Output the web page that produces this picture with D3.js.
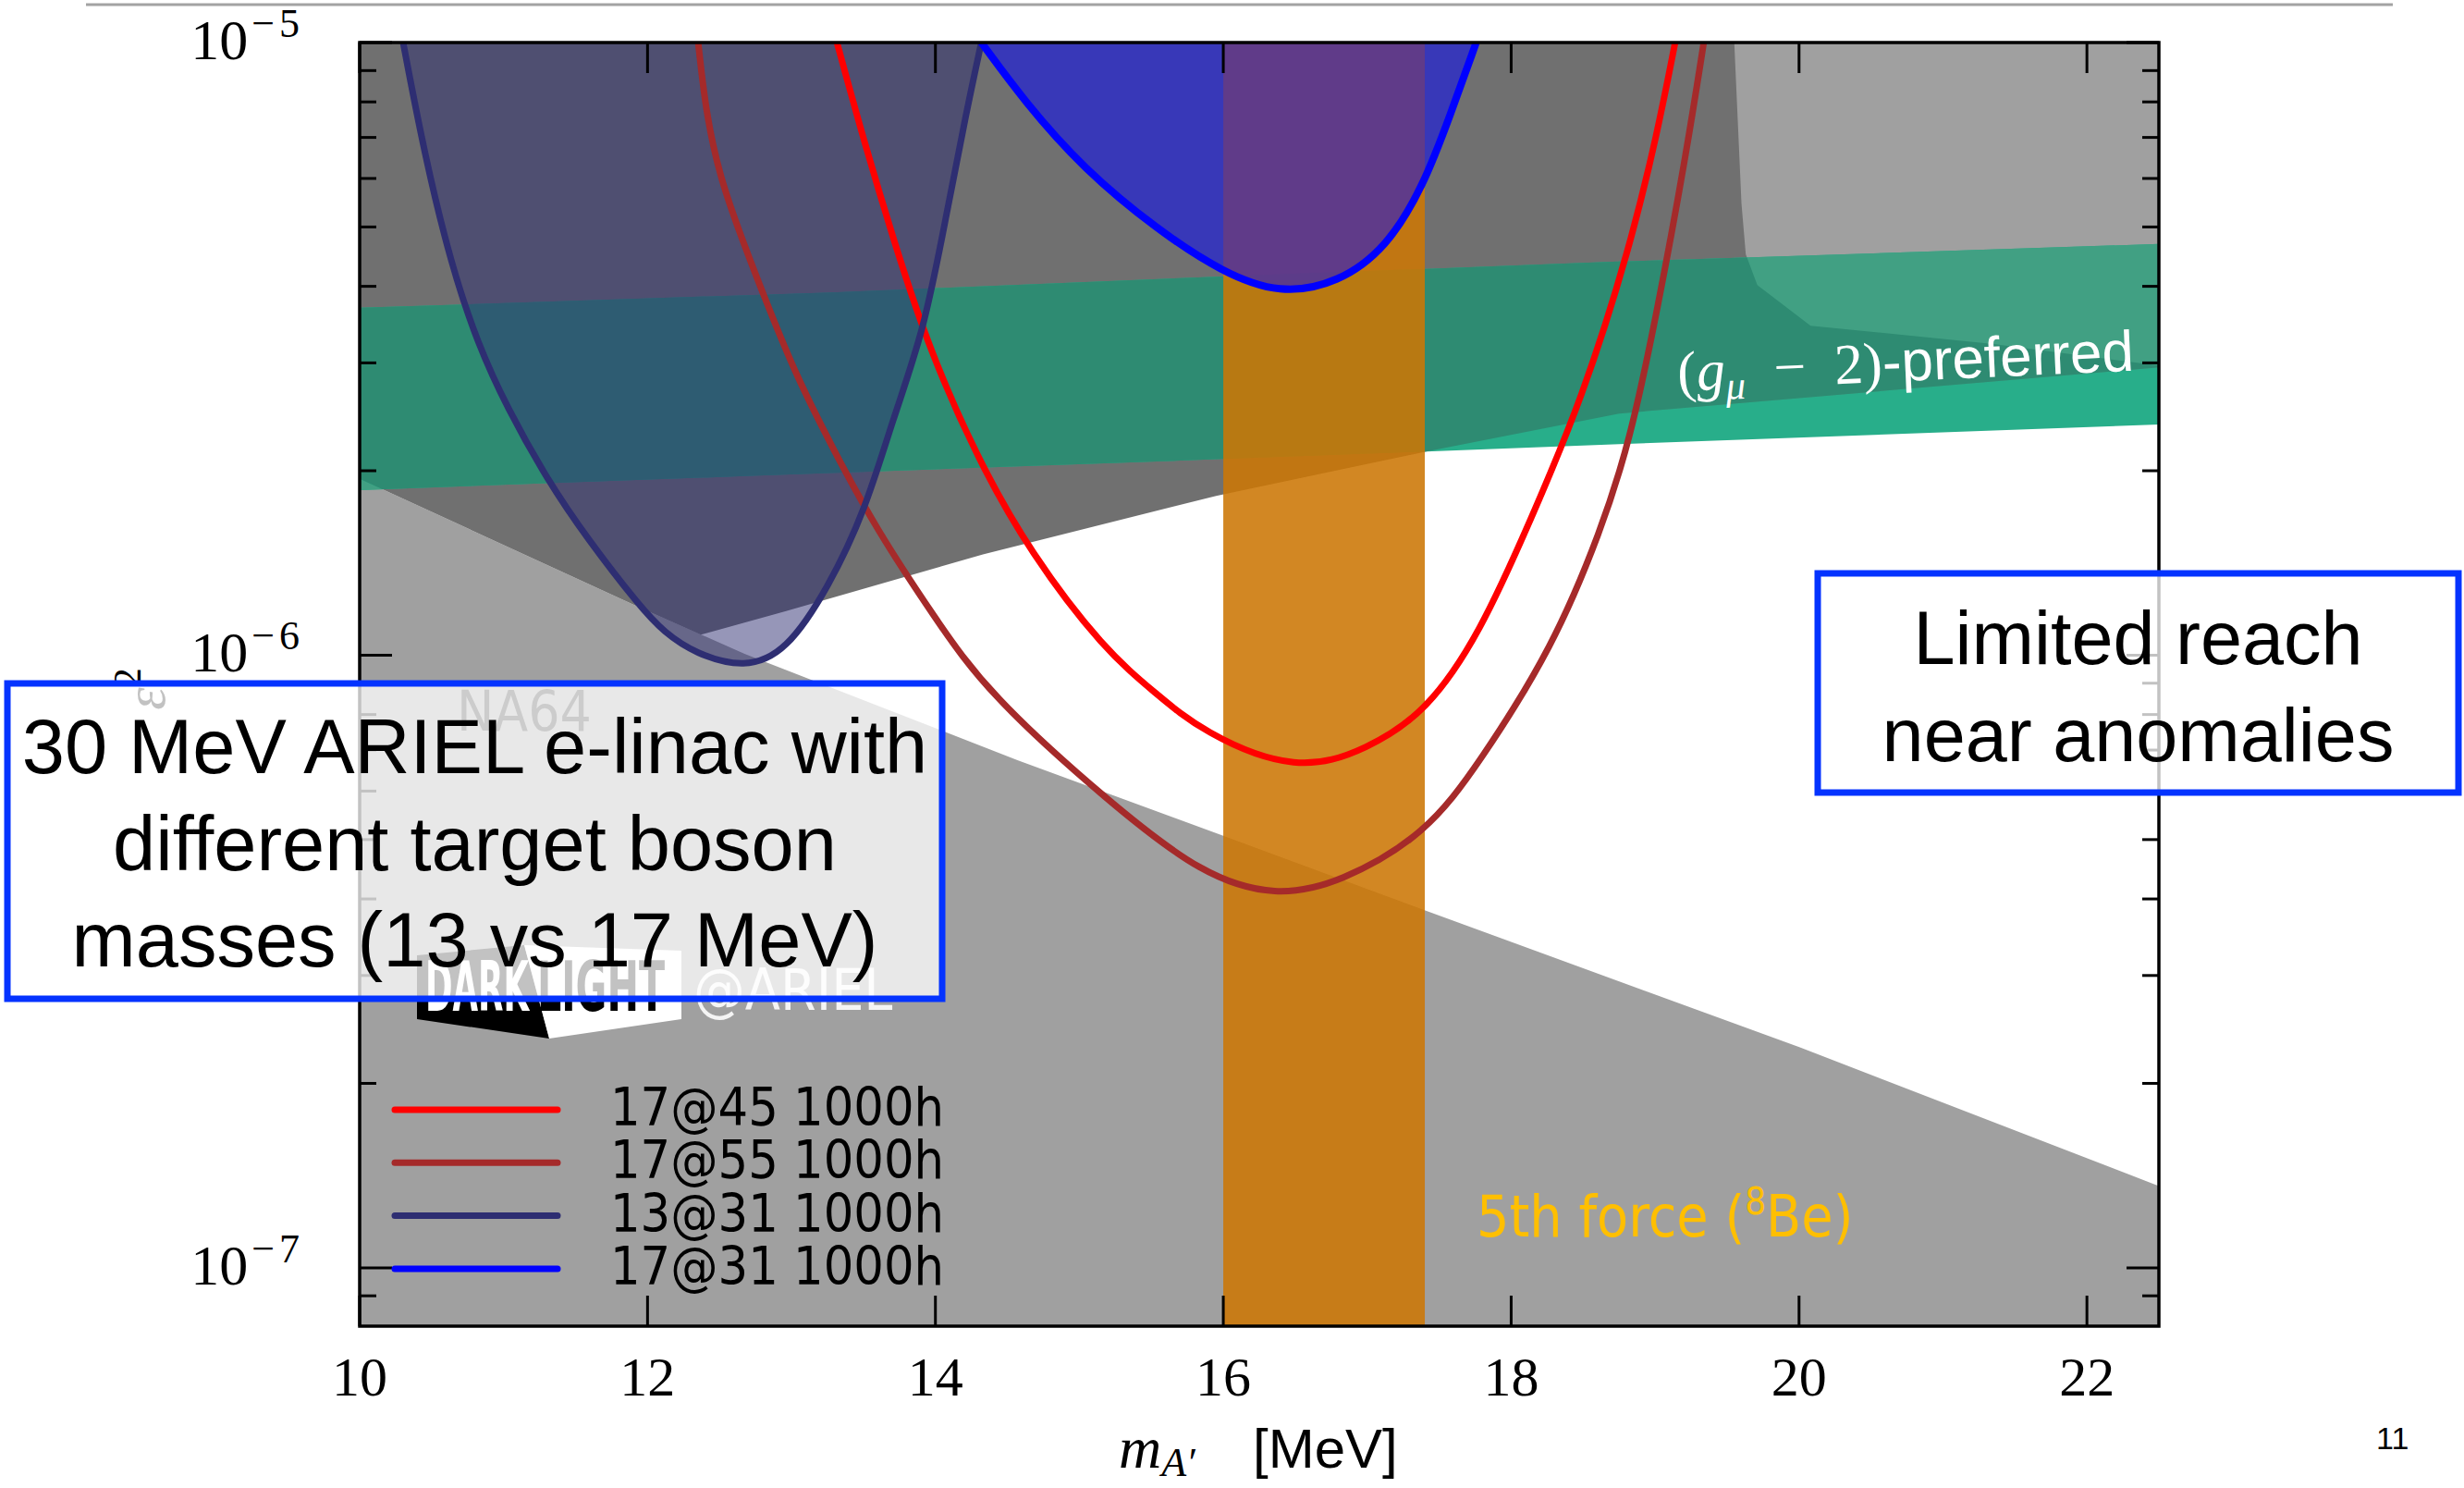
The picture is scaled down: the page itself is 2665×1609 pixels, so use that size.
<!DOCTYPE html>
<html>
<head>
<meta charset="utf-8">
<script src="https://cdn.jsdelivr.net/npm/d3@7"></script>
<style>
html, body { margin: 0; padding: 0; background: #fff; }
svg { display: block; }
</style>
</head>
<body>
<div id="chart"></div>
<script>
// ---- data: [mass MeV, eps^2] ----
const massDomain = [10, 22.5];
const epsDomain = [8.03e-8, 1e-5];
const massTicks = [10, 12, 14, 16, 18, 20, 22];
const epsMajor = [1e-7, 1e-6, 1e-5];
const epsMajorExp = ["\u22127", "\u22126", "\u22125"];
const epsMinor = [9e-8, 2e-7, 3e-7, 4e-7, 5e-7, 6e-7, 7e-7, 8e-7, 9e-7,
                  2e-6, 3e-6, 4e-6, 5e-6, 6e-6, 7e-6, 8e-6, 9e-6];

// NA64-like exclusion edge (light grey below)
const na64Edge = [[10, 1.94e-6], [11.947, 1.196e-6], [12.674, 1.005e-6], [14.57, 6.74e-7],
                  [16.0, 5.07e-7], [17.39, 3.84e-7], [20.006, 2.29e-7], [22.5, 1.36e-7]];
// darker exclusion: lower rising edge and upper-right edge
const darkLowerEdge = [[12.37, 1.08e-6], [12.963, 1.18e-6], [14.33, 1.46e-6], [15.95, 1.82e-6],
                       [17.41, 2.15e-6], [18.75, 2.48e-6], [22.5, 2.95e-6]];
const darkRightEdge = [[19.55, 1e-5], [19.60, 5.46e-6], [19.63, 4.51e-6], [19.71, 4.02e-6],
                       [20.08, 3.45e-6], [21.35, 3.22e-6], [22.5, 2.97e-6]];
const lightUpperCorner = [[19.4, 1e-5], [22.5, 1e-5]];

// (g-2)_mu preferred band
const gm2Upper = [[10, 3.69e-6], [13.284, 3.91e-6], [15.99, 4.15e-6], [18.747, 4.39e-6], [22.5, 4.69e-6]];
const gm2Lower = [[10, 1.86e-6], [12.674, 1.96e-6], [15.99, 2.09e-6], [17.41, 2.15e-6], [18.75, 2.21e-6], [22.5, 2.38e-6]];

// 8Be anomaly mass window
const beWindow = [16.0, 17.4];

// projected reach curves
const reach17at45 = [[13.316, 1e-5], [13.515, 6.75e-6], [13.734, 4.56e-6], [13.959, 3.15e-6], [14.293, 2.09e-6],
  [14.659, 1.47e-6], [15.173, 1.02e-6], [15.533, 8.66e-7], [15.855, 7.48e-7], [16.517, 6.42e-7],
  [17.005, 7.03e-7], [17.41, 8.07e-7], [17.783, 1.085e-6], [18.13, 1.65e-6], [18.496, 2.63e-6],
  [18.824, 4.62e-6], [19.017, 7.14e-6], [19.139, 1e-5]];
const reach17at55 = [[12.352, 1e-5], [12.404, 7.73e-6], [12.5, 6.04e-6], [12.667, 4.70e-6], [12.847, 3.66e-6],
  [13.033, 2.86e-6], [13.284, 2.18e-6], [13.593, 1.60e-6], [13.997, 1.15e-6], [14.364, 8.66e-7],
  [15.212, 5.74e-7], [15.855, 4.37e-7], [16.369, 4.03e-7], [16.812, 4.25e-7], [17.41, 5.10e-7],
  [17.783, 6.69e-7], [18.29, 1.03e-6], [18.625, 1.60e-6], [18.824, 2.23e-6], [19.017, 3.66e-6],
  [19.216, 6.57e-6], [19.338, 1e-5]];
const reach13at31 = [[10.302, 1e-5], [10.45, 6.57e-6], [10.636, 4.33e-6], [10.823, 3.21e-6], [11.022, 2.54e-6],
  [11.305, 1.93e-6], [11.581, 1.55e-6], [11.947, 1.20e-6], [12.114, 1.09e-6], [12.333, 1.005e-6],
  [12.674, 9.51e-7], [12.963, 1.012e-6], [13.258, 1.29e-6], [13.515, 1.73e-6], [13.702, 2.42e-6],
  [13.92, 3.38e-6], [14.068, 5.11e-6], [14.216, 7.73e-6], [14.319, 1e-5]];
const reach17at31 = [[14.319, 1e-5], [14.621, 8.00e-6], [15.026, 6.23e-6], [15.546, 4.94e-6], [15.99, 4.22e-6],
  [16.395, 3.88e-6], [16.799, 4.05e-6], [17.134, 4.62e-6], [17.391, 5.83e-6], [17.577, 7.62e-6], [17.757, 1e-5]];

const legendLabels = ["17@45 1000h", "17@55 1000h", "13@31 1000h", "17@31 1000h"];
const seriesColors = ["#ff0000", "#a52a2a", "#2e2e72", "#0000ff"];
const series = [reach17at45, reach17at55, reach13at31, reach17at31];

const leftNote = ["30 MeV ARIEL e-linac with", "different target boson", "masses (13 vs 17 MeV)"];
const rightNote = ["Limited reach", "near anomalies"];

// ---- layout ----
const W = 2665, H = 1609;
const plot = {left: 389, top: 46, right: 2335, bottom: 1434};
const SERIF = "'Liberation Serif', 'DejaVu Serif', serif";
const SANS = "'Liberation Sans', Arial, sans-serif";
const COND = "'DejaVu Sans Condensed', 'DejaVu Sans', sans-serif";

const svg = d3.select("#chart").append("svg").attr("width", W).attr("height", H);
const x = d3.scaleLinear().domain(massDomain).range([plot.left, plot.right]);
const y = d3.scaleLog().domain(epsDomain).range([plot.bottom, plot.top]);

function poly(pts) {
    return "M" + pts.map(d => x(d[0]) + "," + y(d[1])).join("L") + "Z";
}

let lightLower = na64Edge.concat([[massDomain[1], epsDomain[0]], [massDomain[0], epsDomain[0]]]);
let lightUpper = lightUpperCorner.concat([darkLowerEdge[6], darkLowerEdge[5]]);
let darkRegion = [[massDomain[0], epsDomain[1]]]
    .concat(darkRightEdge, darkLowerEdge.slice().reverse(), [na64Edge[1], na64Edge[0]]);
let gm2Band = gm2Upper.concat(gm2Lower.slice().reverse());

// top rule of the slide
svg.append("line").attr("x1", 93).attr("x2", 2588).attr("y1", 5).attr("y2", 5)
    .attr("stroke", "#a3a3a3").attr("stroke-width", 3);

const defs = svg.append("defs");
defs.append("clipPath").attr("id", "plotClip").append("rect")
    .attr("x", plot.left).attr("y", plot.top)
    .attr("width", plot.right - plot.left).attr("height", plot.bottom - plot.top);
let lc = defs.append("clipPath").attr("id", "lightClip");
lc.append("path").attr("d", poly(lightLower));
lc.append("path").attr("d", poly(lightUpper));
defs.append("clipPath").attr("id", "darkClip").append("path").attr("d", poly(darkRegion));

const g = svg.append("g").attr("clip-path", "url(#plotClip)");

g.append("path").attr("d", poly(lightLower)).attr("fill", "#a0a0a0");
g.append("path").attr("d", poly(lightUpper)).attr("fill", "#a0a0a0");
g.append("path").attr("d", poly(darkRegion)).attr("fill", "#707070");

// g-2 band, tinted by what lies beneath
g.append("path").attr("d", poly(gm2Band)).attr("fill", "#28ae8a");
g.append("path").attr("d", poly(gm2Band)).attr("fill", "#41a083").attr("clip-path", "url(#lightClip)");
g.append("path").attr("d", poly(gm2Band)).attr("fill", "#2e8b72").attr("clip-path", "url(#darkClip)");

g.append("rect").attr("x", x(beWindow[0])).attr("y", plot.top)
    .attr("width", x(beWindow[1]) - x(beWindow[0])).attr("height", plot.bottom - plot.top)
    .attr("fill", "rgb(204,118,4)").attr("fill-opacity", 0.88);

// B-spline smooths out the reading noise in the traced points
const area = d3.area().curve(d3.curveBasis)
    .x(d => x(d[0])).y0(y(epsDomain[1])).y1(d => y(d[1]));
g.append("path").attr("d", area(reach13at31)).attr("fill", seriesColors[2]).attr("fill-opacity", 0.5);
g.append("path").attr("d", area(reach17at31)).attr("fill", seriesColors[3]).attr("fill-opacity", 0.5);

const line = d3.line().curve(d3.curveBasis).x(d => x(d[0])).y(d => y(d[1]));
series.forEach((s, i) => {
    g.append("path").attr("d", line(s)).attr("fill", "none")
        .attr("stroke", seriesColors[i]).attr("stroke-width", i == 3 ? 8 : 7);
});

// labels inside the plot
let gl = g.append("text").attr("transform", "translate(1815,423) rotate(-2.6)")
    .attr("fill", "#fff").attr("font-size", 62);
gl.append("tspan").attr("font-family", SERIF).text("(");
gl.append("tspan").attr("font-family", SERIF).attr("font-style", "italic").text("g");
gl.append("tspan").attr("font-family", SERIF).attr("font-style", "italic").attr("font-size", 43).attr("dy", 11).text("\u03bc");
gl.append("tspan").attr("font-family", SERIF).attr("dy", -11).text("\u2002\u2212\u20022)");
gl.append("tspan").attr("font-family", SANS).text("-preferred");

let bt = g.append("text").attr("x", 1597).attr("y", 1337).attr("fill", "#ffbf00")
    .attr("font-family", COND).attr("font-size", 62);
bt.append("tspan").text("5th force (");
bt.append("tspan").attr("font-size", 40).attr("dy", -24).text("8");
bt.append("tspan").attr("dy", 24).text("Be)");

g.append("text").attr("x", 494).attr("y", 790).attr("fill", "#2c2c2c")
    .attr("font-family", COND).attr("font-size", 60).text("NA64");

// frame and ticks
svg.append("rect").attr("x", plot.left).attr("y", plot.top)
    .attr("width", plot.right - plot.left).attr("height", plot.bottom - plot.top)
    .attr("fill", "none").attr("stroke", "#000").attr("stroke-width", 3.5);

const ticks = svg.append("g").attr("stroke", "#000").attr("stroke-width", 3);
massTicks.forEach(v => {
    ticks.append("line").attr("x1", x(v)).attr("x2", x(v)).attr("y1", plot.bottom).attr("y2", plot.bottom - 33);
    ticks.append("line").attr("x1", x(v)).attr("x2", x(v)).attr("y1", plot.top).attr("y2", plot.top + 33);
});
epsMajor.forEach(v => {
    ticks.append("line").attr("x1", plot.left).attr("x2", plot.left + 35).attr("y1", y(v)).attr("y2", y(v));
    ticks.append("line").attr("x1", plot.right).attr("x2", plot.right - 35).attr("y1", y(v)).attr("y2", y(v));
});
epsMinor.forEach(v => {
    ticks.append("line").attr("x1", plot.left).attr("x2", plot.left + 18).attr("y1", y(v)).attr("y2", y(v));
    ticks.append("line").attr("x1", plot.right).attr("x2", plot.right - 18).attr("y1", y(v)).attr("y2", y(v));
});

massTicks.forEach(v => {
    svg.append("text").attr("x", x(v)).attr("y", 1509).attr("text-anchor", "middle")
        .attr("font-family", SERIF).attr("font-size", 60).text(v);
});
epsMajor.forEach((v, i) => {
    let t = svg.append("text").attr("x", 329).attr("y", y(v) + 18).attr("text-anchor", "end")
        .attr("font-family", SERIF).attr("font-size", 62);
    t.append("tspan").text("10");
    t.append("tspan").attr("font-size", 44).attr("dx", 4).attr("dy", -24)
        .attr("letter-spacing", 5).text(epsMajorExp[i]);
});

// axis titles
let yl = svg.append("text").attr("transform", "translate(178,745) rotate(-90)")
    .attr("text-anchor", "middle").attr("font-family", SERIF).attr("font-style", "italic").attr("font-size", 62);
yl.append("tspan").text("\u03b5");
yl.append("tspan").attr("font-size", 42).attr("font-style", "normal").attr("dy", -26).text("2");

let xl = svg.append("text").attr("x", 1210).attr("y", 1587).attr("font-size", 64);
xl.append("tspan").attr("font-family", SERIF).attr("font-style", "italic").text("m");
xl.append("tspan").attr("font-family", SERIF).attr("font-style", "italic").attr("font-size", 44).attr("dy", 9).text("A\u2032");
svg.append("text").attr("x", 1355).attr("y", 1587).attr("font-family", SANS).attr("font-size", 60).text("[MeV]");

// DarkLight logo
const logo = svg.append("g");
logo.append("path").attr("d", "M451,1033L567,1022L594,1123L451,1102Z").attr("fill", "#000");
logo.append("path").attr("d", "M567,1022L737,1028L737,1102L594,1123Z").attr("fill", "#fff");
logo.append("text").attr("x", 460).attr("y", 1093).attr("fill", "#fff").attr("font-family", COND)
    .attr("font-weight", "bold").attr("font-size", 74).attr("textLength", 112)
    .attr("lengthAdjust", "spacingAndGlyphs").text("DARK");
logo.append("text").attr("x", 581).attr("y", 1093).attr("fill", "#000").attr("font-family", COND)
    .attr("font-weight", "bold").attr("font-size", 74).attr("textLength", 138)
    .attr("lengthAdjust", "spacingAndGlyphs").text("LIGHT");
logo.append("text").attr("x", 750).attr("y", 1092).attr("fill", "#f4f4f4").attr("font-family", COND)
    .attr("font-size", 62).text("@ARIEL");

// legend
const legend = svg.append("g");
legendLabels.forEach((lab, i) => {
    let ly = 1200 + i * 57.3;
    legend.append("line").attr("x1", 427).attr("x2", 603).attr("y1", ly).attr("y2", ly)
        .attr("stroke", seriesColors[i]).attr("stroke-width", 7).attr("stroke-linecap", "round");
    legend.append("text").attr("x", 660).attr("y", ly + 17).attr("font-family", COND)
        .attr("font-size", 57).text(lab);
});

// annotation boxes
function noteBox(x0, y0, x1, y1, lines, base, step, size) {
    svg.append("rect").attr("x", x0).attr("y", y0).attr("width", x1 - x0).attr("height", y1 - y0)
        .attr("fill", "#fff").attr("fill-opacity", 0.76)
        .attr("stroke", "#0433ff").attr("stroke-width", 7);
    lines.forEach((t, i) => {
        svg.append("text").attr("x", (x0 + x1) / 2).attr("y", base + i * step)
            .attr("text-anchor", "middle").attr("font-family", SANS).attr("font-size", size).text(t);
    });
}
noteBox(8, 739, 1019, 1080, leftNote, 836, 104.5, 83);
noteBox(1966, 620, 2659, 857, rightNote, 718, 105, 81);

svg.append("text").attr("x", 2570).attr("y", 1567).attr("font-family", SANS).attr("font-size", 34).text("11");
</script>
</body>
</html>
